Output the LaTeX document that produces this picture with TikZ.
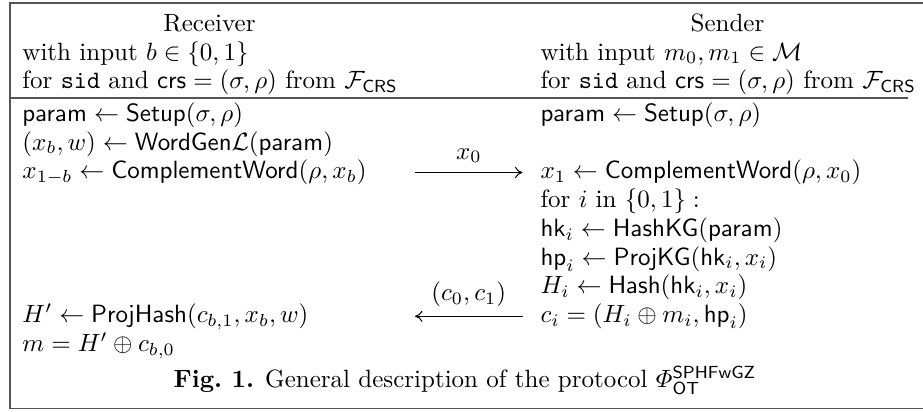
\documentclass[tikz,border=0pt]{standalone}
\usepackage{amsmath,amssymb}
\usetikzlibrary{arrows.meta,positioning,calc}
\definecolor{Frame}{HTML}{555555}

\begin{document}
\begin{tikzpicture}[x=1pt,y=1pt,
    txt/.style={anchor=base west,inner sep=0pt},
    head/.style={anchor=base,inner sep=0pt},
    msg/.style={thin,-{To[length=3pt,width=4.5pt]}}]
        \useasboundingbox (0,0) rectangle (369.2,-164.4);
        \draw[Frame,line width=0.7pt] (4,-1.2) rectangle (380,-163.4);
        % receiver side
        \node[head] (rHead) at (83.8,-12.5) {Receiver};
        \node[txt] (rIn) at (8.8,-24) {with input $b\in\{0,1\}$};
        \node[txt] (rCrs) at (8.8,-35.5) {for \texttt{sid} and $\mathsf{crs}=(\sigma,\rho)$ from $\mathcal{F}_{\mathsf{CRS}}$};
        \draw[Frame,line width=0.6pt] (4,-39.2) -- (363,-39.2);
        \node[txt] (rParam) at (8.8,-48.5) {$\mathsf{param}\leftarrow\mathsf{Setup}(\sigma,\rho)$};
        \node[txt] (rWord) at (8.8,-60) {$(x_b,w)\leftarrow\mathsf{WordGen}\mathcal{L}(\mathsf{param})$};
        \node[txt] (rComp) at (8.8,-71.5) {$x_{1-b}\leftarrow\mathsf{ComplementWord}(\rho,x_b)$};
        \node[txt] (rHash) at (8.8,-129) {$H'\leftarrow\mathsf{ProjHash}(c_{b,1},x_b,w)$};
        \node[txt] (rOut) at (8.8,-140.5) {$m=H'\oplus c_{b,0}$};
        % sender side
        \node[head] (sHead) at (291,-12.5) {Sender};
        \node[txt] (sIn) at (216,-24) {with input $m_0,m_1\in\mathcal{M}$};
        \node[txt] (sCrs) at (216,-35.5) {for \texttt{sid} and $\mathsf{crs}=(\sigma,\rho)$ from $\mathcal{F}_{\mathsf{CRS}}$};
        \node[txt] (sParam) at (216,-48.5) {$\mathsf{param}\leftarrow\mathsf{Setup}(\sigma,\rho)$};
        \node[txt] (sComp) at (216,-71.5) {$x_1\leftarrow\mathsf{ComplementWord}(\rho,x_0)$};
        \node[txt] (sLoop) at (216,-83) {for $i$ in $\{0,1\}:$};
        \node[txt] (sHk) at (216,-94.5) {$\mathsf{hk}_i\leftarrow\mathsf{HashKG}(\mathsf{param})$};
        \node[txt] (sHp) at (216,-106) {$\mathsf{hp}_i\leftarrow\mathsf{ProjKG}(\mathsf{hk}_i,x_i)$};
        \node[txt] (sH) at (216,-117.5) {$H_i\leftarrow\mathsf{Hash}(\mathsf{hk}_i,x_i)$};
        \node[txt] (sC) at (216,-129) {$c_i=(H_i\oplus m_i,\mathsf{hp}_i)$};
        % messages
        \coordinate (xFrom) at (166,-69);
        \coordinate (xTo) at (209,-69);
        \draw[msg] (xFrom) -- node[above=0.3pt] (xLab) {$x_0$} (xTo);
        \coordinate (cFrom) at (209,-126.5);
        \coordinate (cTo) at (166,-126.5);
        \draw[msg] (cFrom) -- node[above=0.3pt] (cLab) {$(c_0,c_1)$} (cTo);
        \node[head] (cap) at (186,-155) {\textbf{Fig.~1.} General description of the protocol $\varPhi_{\mathsf{OT}}^{\mathsf{SPHFwGZ}}$};
      \end{tikzpicture}
\end{document}
